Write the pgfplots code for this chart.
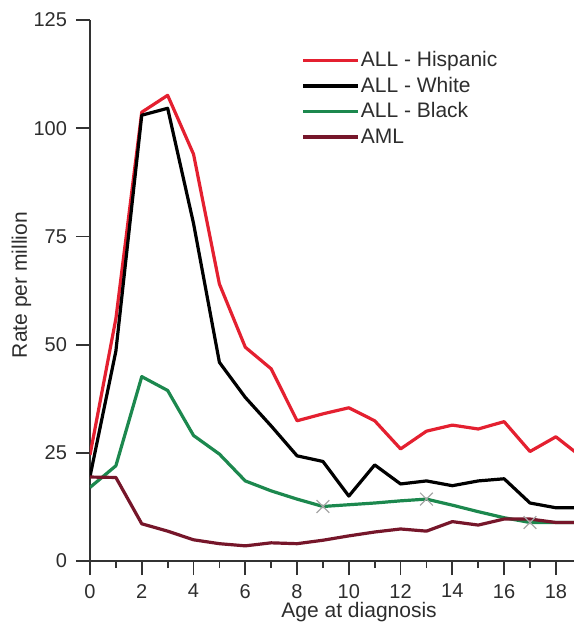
\documentclass[border=0pt]{standalone}
\usepackage{fontspec}
\setmainfont{Liberation Sans}
\usepackage{pgfplots}
\pgfplotsset{compat=1.18}
\definecolor{cred}{RGB}{228,32,48}
\definecolor{cgreen}{RGB}{28,136,78}
\definecolor{caml}{RGB}{118,22,42}
\definecolor{ctext}{RGB}{45,45,45}
\begin{document}
\begin{tikzpicture}
\path[use as bounding box] (-45pt,-31pt) rectangle (242pt,280.5pt);
\begin{axis}[
  at={(0pt,0pt)}, anchor=south west,
  scale only axis, width=242pt, height=270.5pt,
  xmin=0, xmax=18.7, ymin=0, ymax=125,
  axis lines=left, axis line style={-, line width=0.9pt, black!80},
  clip=true,
  xtick={0,2,...,18}, minor xtick={1,3,...,19},
  ytick={0,25,...,125},
  tick align=outside,
  major tick length=7pt, minor tick length=3.5pt,
  tick style={line width=0.9pt, black!80},
  minor tick style={line width=0.9pt, black!80},
  every tick label/.append style={font=\fontsize{10}{12}\selectfont, text=ctext},
  /pgf/number format/assume math mode=true,
  xticklabel style={anchor=north, yshift=-1pt},
  yticklabel style={anchor=east, xshift=-1pt},
  xlabel={Age at diagnosis}, ylabel={Rate per million},
  label style={font=\fontsize{10.5}{12}\selectfont, text=ctext},
  xlabel style={at={(rel axis cs:0.556,0)}, anchor=base, yshift=-28pt},
  ylabel style={at={(rel axis cs:0,0.51)}, anchor=base, yshift=31.5pt},
  legend style={at={(axis cs:7.93,119.2)}, anchor=north west, draw=none, fill=none,
    font=\fontsize{10.5}{12}\selectfont, text=ctext,
    nodes={inner sep=0.5pt, text height=8pt, text depth=2pt}, row sep=1.75pt},
  legend cell align=left,
  legend image code/.code={\draw[#1, line width=1.6pt] (0pt,0pt) -- (27.5pt,0pt);},
  every axis plot/.append style={line width=1.6pt, line join=round},
]
\addplot[cred, mark=none] coordinates {
(0,24.5)(1,56)(2,103.7)(3,107.6)(4,94)(5,64)(6,49.4)(7,44.4)(8,32.4)(9,34)(10,35.4)(11,32.4)(12,25.9)(13,30)(14,31.4)(15,30.5)(16,32.2)(17,25.3)(18,28.7)(19,24)};
\addlegendentry{ALL - Hispanic}
\addplot[black, mark=none] coordinates {
(0,19.5)(1,48.5)(2,103)(3,104.6)(4,78)(5,45.9)(6,37.8)(7,31.2)(8,24.3)(9,23)(10,15)(11,22.2)(12,17.8)(13,18.5)(14,17.4)(15,18.5)(16,19)(17,13.4)(18,12.3)(19,12.3)};
\addlegendentry{ALL - White}
\addplot[cgreen, mark=none] coordinates {
(0,17)(1,22)(2,42.6)(3,39.4)(4,29)(5,24.7)(6,18.5)(7,16.2)(8,14.3)(9,12.6)(10,13)(11,13.4)(12,13.9)(13,14.3)(14,12.9)(15,11.4)(16,10)(17,8.9)(18,8.9)(19,8.9)};
\addlegendentry{ALL - Black}
\addplot[caml, mark=none] coordinates {
(0,19.4)(1,19.3)(2,8.6)(3,6.9)(4,4.9)(5,4)(6,3.5)(7,4.2)(8,4)(9,4.8)(10,5.8)(11,6.7)(12,7.4)(13,6.9)(14,9.1)(15,8.3)(16,9.7)(17,9.7)(18,8.9)(19,8.9)};
\addlegendentry{AML}
\addplot[forget plot, only marks, mark=x, mark size=4.5pt, line width=0.6pt, gray!70] coordinates {(9,12.6)(13,14.3)(17,8.9)};
\end{axis}
\end{tikzpicture}
\end{document}
